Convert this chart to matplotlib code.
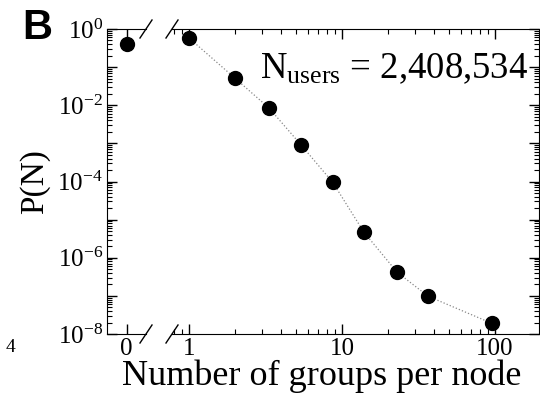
import matplotlib
matplotlib.use("Agg")
import matplotlib.pyplot as plt
from matplotlib.ticker import LogLocator, FixedLocator, FuncFormatter, NullFormatter
from matplotlib.lines import Line2D

plt.rcParams['font.family'] = ['Liberation Serif', 'DejaVu Serif']
plt.rcParams['mathtext.fontset'] = 'custom'
plt.rcParams['mathtext.rm'] = 'Liberation Serif'
plt.rcParams['mathtext.it'] = 'Liberation Serif:italic'
plt.rcParams['axes.unicode_minus'] = False

# data
x_zero = [0]
p_zero = [0.41]
groups = [1, 2.0, 3.33, 5.4, 8.7, 13.9, 22.9, 36.5, 95.5]
prob = [0.58, 0.051, 0.0085, 9.1e-4, 9.5e-5, 4.7e-6, 4.2e-7, 9.8e-8, 1.9e-8]
n_users_label = "2,408,534"

W, H = 540, 396
fig = plt.figure(figsize=(5.4, 3.96), dpi=100)

bot = 1 - 334 / H
top = 1 - 29 / H
axL = fig.add_axes([107 / W, bot, 39 / W, top - bot])
axR = fig.add_axes([172 / W, bot, (539 - 172) / W, top - bot])

ylim = (1e-8, 1e0)
tick_kw = dict(direction='in', which='major', length=7, width=1.0)
minor_kw = dict(direction='in', which='minor', length=3.5, width=0.8)

def yfmt(v, pos):
    import math
    k = int(round(math.log10(v)))
    if k % 2 == 0:
        return r'10$^{\mathregular{%d}}$' % k
    return ''

# left axis (the zero bin)
axL.plot(x_zero, p_zero, 'o', color='black', markersize=10)
axL.set_yscale('log')
axL.set_ylim(*ylim)
axL.set_xlim(-0.5, 0.5)
axL.xaxis.set_major_locator(FixedLocator([0]))
axL.set_xticklabels(['0'])
axL.yaxis.set_major_locator(LogLocator(base=10, numticks=20))
axL.yaxis.set_minor_locator(LogLocator(base=10, subs=range(2, 10), numticks=20))
axL.yaxis.set_major_formatter(FuncFormatter(yfmt))
axL.yaxis.set_minor_formatter(NullFormatter())
axL.spines['right'].set_visible(False)
axL.tick_params(axis='both', **tick_kw, labelsize=18, pad=3, top=True)
axL.tick_params(axis='y', **minor_kw)
axL.set_ylabel('P(N)', fontsize=24)
axL.yaxis.set_label_coords((50 - 107) / 39, 0.5)

# right axis (log x)
axR.plot(groups, prob, ':', color='#888888', linewidth=0.9)
axR.plot(groups, prob, 'o', color='black', markersize=10)
axR.set_xscale('log')
axR.set_yscale('log')
axR.set_ylim(*ylim)
axR.set_xlim(0.774, 194)
axR.xaxis.set_major_locator(FixedLocator([1, 10, 100]))
axR.set_xticklabels(['1', '10', '100'])
axR.xaxis.set_minor_locator(LogLocator(base=10, subs=range(2, 10), numticks=20))
axR.xaxis.set_minor_formatter(NullFormatter())
axR.yaxis.set_major_locator(LogLocator(base=10, numticks=20))
axR.yaxis.set_minor_locator(LogLocator(base=10, subs=range(2, 10), numticks=20))
axR.spines['left'].set_visible(False)
axR.tick_params(axis='both', **tick_kw, labelsize=18, pad=3, top=True, right=True,
                left=False, labelleft=False)
axR.tick_params(axis='both', **minor_kw, top=True, right=True, left=False)
axR.set_xlabel('Number of groups per node', fontsize=26, labelpad=0)
axR.xaxis.set_label_coords((322 - 172) / (539 - 172), -0.085)

axR.text(0.24, 0.87, r'N$_{\mathregular{users}}$ = ' + n_users_label,
         transform=axR.transAxes, fontsize=26.5, va='center', ha='left')

# break marks
for (x0, x1) in [(140, 152), (166, 178)]:
    for yb in (29, 334):
        fig.add_artist(Line2D([x0 / W, x1 / W], [1 - (yb + 9) / H, 1 - (yb - 9) / H],
                              color='black', linewidth=1.0))

fig.text(37 / W, 1 - 28 / H, 'B', fontsize=30, fontweight='bold',
         family='Liberation Sans', ha='center', va='center')
fig.text(10 / W, 1 - 347 / H, '4', fontsize=14, ha='center', va='center')

fig.savefig('out.png', dpi=100)
